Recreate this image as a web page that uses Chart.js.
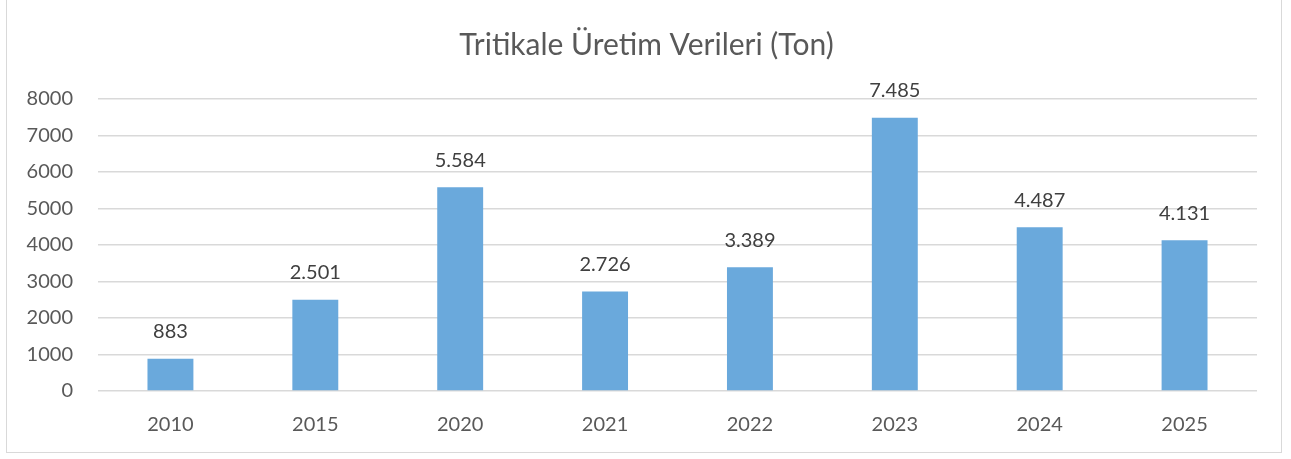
<!DOCTYPE html>
<html><head><meta charset="utf-8">
<script src="https://cdn.jsdelivr.net/npm/chart.js@4"></script>
<style>
html,body{margin:0;padding:0;background:#fff;}
#wrap{position:relative;width:1291px;height:459px;}
#frame{position:absolute;left:6px;top:-2px;width:1276px;height:455px;border:1px solid #d9d9d9;box-sizing:border-box;pointer-events:none;}
canvas{position:absolute;left:0;top:0;}
</style></head>
<body><div id="wrap"><canvas id="c" width="1291" height="459"></canvas><div id="frame"></div></div>
<script>
const categories = ['2010','2015','2020','2021','2022','2023','2024','2025'];
const production = [883, 2501, 5584, 2726, 3389, 7485, 4487, 4131];
const yTicks = [0,1000,2000,3000,4000,5000,6000,7000,8000];
const titleText = 'Tritikale Üretim Verileri (Ton)';

const fmt = v => String(v).replace(/\B(?=(\d{3})+(?!\d))/g, '.');
const FONT = 'Lato, "Open Sans", sans-serif';
const TXT = '#595959';

const labelPlugin = {
  id: 'barLabels',
  afterDatasetsDraw(chart) {
    const ctx = chart.ctx;
    const meta = chart.getDatasetMeta(0);
    ctx.save();
    ctx.font = '20px ' + FONT;
    ctx.fillStyle = '#404040';
    ctx.textAlign = 'center';
    ctx.textBaseline = 'bottom';
    meta.data.forEach((bar, i) => {
      ctx.fillText(fmt(production[i]), bar.x, bar.y - 17);
    });
    ctx.restore();
  }
};

const titlePlugin = {
  id: 'centeredTitle',
  afterDraw(chart) {
    const ctx = chart.ctx;
    ctx.save();
    ctx.font = '30px ' + FONT;
    ctx.fillStyle = TXT;
    ctx.textAlign = 'center';
    ctx.textBaseline = 'middle';
    ctx.fillText(titleText, chart.width / 2 + 1, 45);
    ctx.restore();
  }
};

new Chart(document.getElementById('c'), {
  type: 'bar',
  data: {
    labels: categories,
    datasets: [{
      data: production,
      backgroundColor: '#6aa9dc',
      borderWidth: 0,
      barPercentage: 0.317,
      categoryPercentage: 1
    }]
  },
  options: {
    responsive: false,
    animation: false,
    layout: { padding: { left: 20, right: 34, top: 99, bottom: 0 } },
    plugins: {
      legend: { display: false },
      tooltip: { enabled: false },
      title: { display: false }
    },
    scales: {
      x: {
        grid: { display: false, drawTicks: false },
        border: { display: false },
        ticks: { color: TXT, font: { family: FONT, size: 20 }, padding: 22 },
        afterFit(s) { s.height = 68; }
      },
      y: {
        min: 0, max: 8000,
        afterBuildTicks(s) { s.ticks = yTicks.map(v => ({ value: v })); },
        grid: { color: '#d9d9d9', lineWidth: 1.5, drawTicks: false },
        border: { display: false },
        ticks: { color: TXT, font: { family: FONT, size: 20 }, padding: 25, callback: v => String(v) },
        afterFit(s) { s.width = 78; }
      }
    }
  },
  plugins: [labelPlugin, titlePlugin]
});
</script>
</body></html>
